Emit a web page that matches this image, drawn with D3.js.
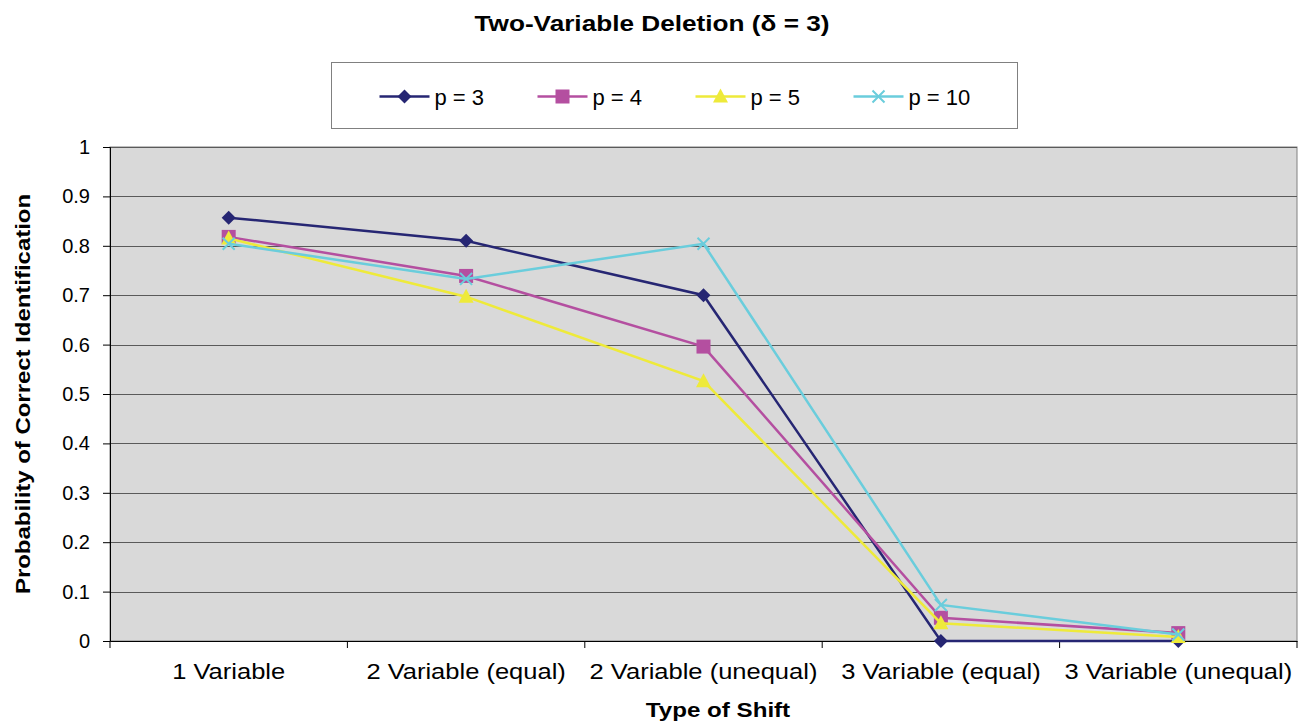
<!DOCTYPE html>
<html>
<head>
<meta charset="utf-8">
<script src="https://cdn.jsdelivr.net/npm/d3@7"></script>
<style>
    body { margin: 0; background: #ffffff; }
    text { font-family: "Liberation Sans", Arial, sans-serif; fill: #000; }
    .title { font-size: 22px; font-weight: bold; }
    .label { font-size: 21px; font-weight: bold; }
</style>
</head>
<body>
<svg id="chart" width="1308" height="725"></svg>
<script>
// Chart data
var categories = ["1 Variable", "2 Variable (equal)", "2 Variable (unequal)", "3 Variable (equal)", "3 Variable (unequal)"];
var seriesNames = ["p = 3", "p = 4", "p = 5", "p = 10"];
var p3Values = [0.857, 0.81, 0.70, 0.0, 0.0];
var p4Values = [0.818, 0.739, 0.596, 0.047, 0.016];
var p5Values = [0.815, 0.697, 0.526, 0.036, 0.008];
var p10Values = [0.804, 0.733, 0.804, 0.073, 0.013];
var yTicks = [0, 0.1, 0.2, 0.3, 0.4, 0.5, 0.6, 0.7, 0.8, 0.9, 1];

var seriesColors = ["#262673", "#b44fa0", "#eeea3a", "#6acddc"];
var seriesShapes = ["diamond", "square", "triangle", "cross"];

var padding = { top: 147, right: 11, bottom: 84, left: 110 };
var svgWidth = 1308, svgHeight = 725;
var chartWidth = svgWidth - padding.left - padding.right;
var chartHeight = svgHeight - padding.top - padding.bottom;

var svg = d3.select("#chart");

var chart = svg.append("g")
    .attr("transform", `translate(${padding.left}, ${padding.top})`);

// Scales
var xScale = d3.scaleBand()
    .domain(categories)
    .range([0, chartWidth]);

var yScale = d3.scaleLinear()
    .domain([0, 1])
    .range([chartHeight, 0]);

// Plot background
chart.append("rect")
    .attr("width", chartWidth)
    .attr("height", chartHeight)
    .attr("fill", "#d9d9d9")
    .attr("stroke", "#808080")
    .attr("stroke-width", 1);

// Horizontal gridlines
chart.append("g")
    .selectAll("line")
    .data(yTicks.slice(1))
    .enter()
    .append("line")
    .attr("x1", 0)
    .attr("x2", chartWidth)
    .attr("y1", function(d) { return Math.round(yScale(d)) + 0.5; })
    .attr("y2", function(d) { return Math.round(yScale(d)) + 0.5; })
    .attr("stroke", "#5a5a5a")
    .attr("stroke-width", 1);

// y-axis
var yAxis = chart.append("g")
    .call(d3.axisLeft(yScale).tickValues(yTicks).tickSize(7).tickPadding(13)
        .tickFormat(function(d) { return d3.format("")(+d.toFixed(1)); }));
yAxis.selectAll("line").attr("stroke", "#000");
yAxis.select(".domain").attr("stroke", "#000");
yAxis.selectAll("text")
    .style("font-family", "Liberation Sans, Arial, sans-serif")
    .style("font-size", "20px");

// x-axis with ticks on band edges
var xAxis = chart.append("g")
    .attr("transform", `translate(0, ${chartHeight})`)
    .call(d3.axisBottom(xScale).tickSize(0).tickPadding(22));
xAxis.select(".domain").attr("stroke", "#000");
xAxis.selectAll("text")
    .style("font-family", "Liberation Sans, Arial, sans-serif")
    .style("font-size", "22px")
    .attr("transform", "scale(1.16, 1)");
chart.append("g")
    .selectAll("line")
    .data(categories)
    .enter()
    .append("line")
    .attr("x1", function(d) { return xScale(d) + xScale.bandwidth(); })
    .attr("x2", function(d) { return xScale(d) + xScale.bandwidth(); })
    .attr("y1", chartHeight)
    .attr("y2", chartHeight + 7)
    .attr("stroke", "#000");
chart.append("line")
    .attr("x1", 0).attr("x2", 0)
    .attr("y1", chartHeight).attr("y2", chartHeight + 7)
    .attr("stroke", "#000");

// Series
var allSeries = [p3Values, p4Values, p5Values, p10Values];

var line = d3.line()
    .x(function(d, i) { return xScale(categories[i]) + xScale.bandwidth() / 2; })
    .y(function(d) { return yScale(d); });

function drawMarker(g, shape, color) {
    if (shape === "diamond") {
        g.append("path").attr("d", "M0,-7L7,0L0,7L-7,0Z").attr("fill", color);
    } else if (shape === "square") {
        g.append("rect").attr("x", -7).attr("y", -7).attr("width", 14).attr("height", 14).attr("fill", color);
    } else if (shape === "triangle") {
        g.append("path").attr("d", "M0,-8L7.5,6L-7.5,6Z").attr("fill", color);
    } else {
        g.append("path").attr("d", "M-6,-6L6,6M-6,6L6,-6")
            .attr("stroke", color).attr("stroke-width", 2).attr("fill", "none");
    }
}

allSeries.forEach(function(values, s) {
    chart.append("path")
        .datum(values)
        .attr("fill", "none")
        .attr("stroke", seriesColors[s])
        .attr("stroke-width", 2.5)
        .attr("d", line);

    values.forEach(function(v, i) {
        var g = chart.append("g")
            .attr("transform", `translate(${xScale(categories[i]) + xScale.bandwidth() / 2}, ${yScale(v)})`);
        drawMarker(g, seriesShapes[s], seriesColors[s]);
    });
});

// Title
svg.append("text")
    .attr("class", "title")
    .attr("transform", "translate(652, 31) scale(1.19, 1)")
    .attr("text-anchor", "middle")
    .text("Two-Variable Deletion (\u03b4 = 3)");

// x label
svg.append("text")
    .attr("class", "label")
    .attr("transform", "translate(718, 717) scale(1.15, 1)")
    .attr("text-anchor", "middle")
    .text("Type of Shift");

// y label
svg.append("text")
    .attr("class", "label")
    .attr("transform", `translate(30, ${padding.top + chartHeight / 2}) rotate(-90) scale(1.14, 1)`)
    .attr("text-anchor", "middle")
    .text("Probability of Correct Identification");

// Legend
var legend = svg.append("g").attr("transform", "translate(331.5, 62.5)");
legend.append("rect")
    .attr("width", 686)
    .attr("height", 66)
    .attr("fill", "#fff")
    .attr("stroke", "#808080");

var legendX = [48, 206, 364, 522];
seriesNames.forEach(function(name, s) {
    var item = legend.append("g").attr("transform", `translate(${legendX[s]}, 34)`);
    item.append("line")
        .attr("x1", 0).attr("x2", 50)
        .attr("stroke", seriesColors[s])
        .attr("stroke-width", 2.5);
    var m = item.append("g").attr("transform", "translate(25, 0)");
    drawMarker(m, seriesShapes[s], seriesColors[s]);
    item.append("text")
        .attr("x", 55)
        .attr("y", 8)
        .style("font-size", "22px")
        .text(name);
});
</script>
</body>
</html>
